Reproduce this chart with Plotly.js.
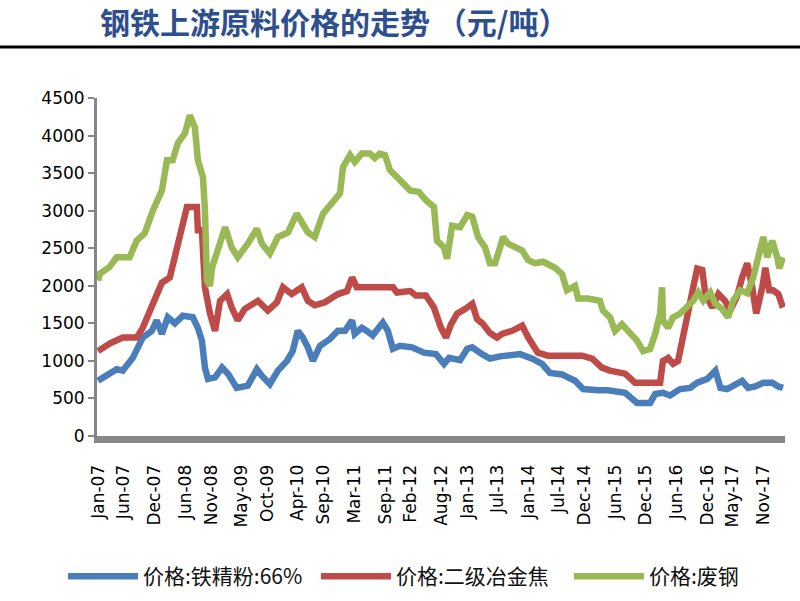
<!DOCTYPE html>
<html>
<head>
<meta charset="utf-8">
<script src="https://cdn.plot.ly/plotly-3.0.1.min.js"></script>
<style>html,body{margin:0;padding:0;background:#fff;}#chart{width:800px;height:601px;}</style>
</head>
<body>
<div id="chart"></div>
<script>
const seriesNames = ['价格:铁精粉:66%', '价格:二级冶金焦', '价格:废钢'];

const tickLabels = ['Jan-07','Jun-07','Dec-07','Jun-08','Nov-08','May-09','Oct-09','Apr-10','Sep-10','Mar-11','Sep-11','Feb-12','Aug-12','Jan-13','Jul-13','Jan-14','Jul-14','Dec-14','Jun-15','Dec-15','Jun-16','Dec-16','May-17','Nov-17'];

const ironDates = ['2007-01-07','2007-04-28','2007-06-03','2007-08-02','2007-09-30','2007-11-23','2007-12-22','2008-01-22','2008-02-26','2008-04-08','2008-05-25','2008-07-24','2008-08-23','2008-09-16','2008-10-04','2008-10-22','2008-12-03','2009-01-14','2009-02-18','2009-03-12','2009-04-11','2009-06-16','2009-08-09','2009-09-08','2009-10-25','2009-12-12','2010-02-04','2010-03-10','2010-04-09','2010-05-09','2010-06-08','2010-07-08','2010-08-19','2010-10-17','2010-12-04','2011-01-15','2011-02-26','2011-03-14','2011-04-25','2011-05-25','2011-06-29','2011-08-28','2011-09-27','2011-10-27','2011-12-08','2012-02-18','2012-04-28','2012-07-09','2012-08-26','2012-09-25','2012-11-30','2013-01-11','2013-02-10','2013-04-09','2013-05-26','2013-07-25','2013-11-22','2014-02-02','2014-04-01','2014-05-18','2014-07-28','2014-10-14','2014-12-01','2015-02-28','2015-04-28','2015-08-08','2015-09-24','2015-10-18','2016-01-04','2016-02-03','2016-03-20','2016-05-01','2016-06-30','2016-08-29','2016-10-10','2016-12-09','2017-01-26','2017-02-25','2017-04-06','2017-05-11','2017-07-04','2017-08-09','2017-09-20','2017-11-07','2017-12-30','2018-02-04','2018-03-04'];
const ironValues = [735,890,870,1040,1310,1400,1540,1360,1580,1500,1600,1580,1440,1270,910,760,780,910,830,735,640,670,890,800,690,870,1000,1130,1400,1310,1180,1000,1200,1290,1400,1400,1540,1360,1440,1400,1340,1510,1400,1160,1200,1180,1110,1090,960,1040,1010,1160,1180,1090,1030,1060,1090,1030,960,840,820,735,625,610,610,575,470,440,440,560,575,540,625,640,710,760,870,640,625,670,735,640,660,710,710,660,640];

const cokeDates = ['2007-01-07','2007-03-17','2007-06-03','2007-08-25','2007-09-30','2007-11-23','2008-01-22','2008-03-09','2008-04-20','2008-05-19','2008-06-19','2008-08-17','2008-08-23','2008-09-16','2008-10-04','2008-11-03','2008-12-03','2009-01-02','2009-02-13','2009-03-12','2009-04-17','2009-05-28','2009-08-15','2009-10-13','2009-12-06','2010-01-11','2010-03-04','2010-05-03','2010-06-08','2010-07-19','2010-09-18','2010-12-04','2011-01-27','2011-02-26','2011-03-26','2011-10-27','2011-11-20','2012-02-06','2012-03-12','2012-05-10','2012-06-27','2012-08-08','2012-09-07','2012-10-07','2012-11-12','2012-12-29','2013-02-10','2013-03-10','2013-04-15','2013-05-26','2013-07-07','2013-08-06','2013-10-05','2013-12-04','2014-01-09','2014-03-07','2014-05-06','2014-11-25','2015-01-24','2015-03-23','2015-05-10','2015-08-08','2015-10-06','2016-03-03','2016-03-20','2016-04-20','2016-05-19','2016-06-18','2016-07-18','2016-08-17','2016-09-16','2016-10-10','2016-11-09','2016-11-27','2017-01-08','2017-02-13','2017-03-24','2017-04-24','2017-06-04','2017-07-04','2017-08-03','2017-09-02','2017-09-26','2017-11-01','2017-11-19','2017-12-12','2018-01-05','2018-02-04','2018-03-04'];
const cokeValues = [1130,1230,1310,1310,1440,1710,2040,2110,2470,2780,3050,3050,2740,2740,1980,1630,1400,1800,1890,1710,1540,1690,1800,1670,1780,1980,1890,1980,1800,1740,1780,1890,1930,2110,1980,1980,1910,1930,1870,1870,1710,1440,1310,1490,1630,1690,1760,1560,1490,1370,1310,1360,1400,1470,1310,1110,1070,1070,1030,910,870,830,710,710,1000,1040,960,1000,1360,1630,1980,2230,2210,1890,1710,1890,1800,1670,1860,2110,2300,1980,1630,1980,2240,1940,1940,1890,1710];

const scrapDates = ['2007-01-07','2007-01-18','2007-03-17','2007-04-28','2007-07-14','2007-08-25','2007-10-12','2007-11-29','2008-01-22','2008-02-21','2008-03-26','2008-04-26','2008-06-07','2008-07-06','2008-08-05','2008-08-23','2008-09-22','2008-10-04','2008-10-16','2008-11-03','2008-11-15','2008-12-20','2009-02-01','2009-03-12','2009-04-17','2009-06-16','2009-08-09','2009-09-08','2009-10-25','2009-12-12','2010-02-10','2010-04-03','2010-05-09','2010-06-08','2010-07-19','2010-09-06','2010-10-29','2010-12-16','2011-01-03','2011-02-14','2011-03-14','2011-04-25','2011-06-12','2011-07-11','2011-08-10','2011-09-10','2011-10-09','2011-11-20','2011-12-25','2012-02-06','2012-03-29','2012-05-10','2012-06-27','2012-07-15','2012-08-26','2012-09-13','2012-10-13','2012-11-30','2013-01-11','2013-02-10','2013-03-16','2013-04-27','2013-05-26','2013-06-25','2013-07-25','2013-08-12','2013-09-11','2013-12-04','2014-01-09','2014-02-19','2014-04-07','2014-06-17','2014-07-28','2014-08-27','2014-10-14','2014-11-02','2014-12-30','2015-03-11','2015-03-29','2015-05-10','2015-06-09','2015-07-20','2015-08-25','2015-10-18','2015-11-23','2016-01-04','2016-02-03','2016-03-03','2016-03-15','2016-03-20','2016-04-20','2016-05-19','2016-06-30','2016-08-11','2016-09-16','2016-10-16','2016-11-15','2016-12-26','2017-01-26','2017-03-07','2017-04-12','2017-05-11','2017-06-22','2017-08-03','2017-09-08','2017-10-08','2017-11-07','2017-11-30','2017-12-30','2018-01-29','2018-02-10','2018-03-04'];
const scrapValues = [2070,2160,2250,2380,2380,2600,2700,3000,3270,3670,3670,3900,4030,4270,4110,3670,3450,3000,2070,2000,2240,2470,2780,2510,2380,2560,2760,2560,2430,2650,2710,2960,2830,2710,2650,2960,3100,3230,3580,3740,3650,3760,3760,3700,3760,3740,3540,3450,3380,3270,3250,3140,3050,2600,2510,2360,2800,2780,2940,2920,2650,2510,2300,2300,2510,2650,2560,2470,2340,2300,2320,2240,2160,1940,2000,1830,1830,1800,1670,1580,1400,1490,1400,1270,1130,1160,1360,1630,1980,1540,1440,1580,1630,1710,1800,1910,1800,1910,1760,1690,1580,1800,1940,1900,2110,2380,2650,2380,2600,2380,2230,2380];

const monthIdx = {Jan:'01',Feb:'02',Mar:'03',Apr:'04',May:'05',Jun:'06',Jul:'07',Aug:'08',Sep:'09',Oct:'10',Nov:'11',Dec:'12'};
const tickVals = tickLabels.map(function (t) {
  const p = t.split('-');
  return '20' + p[1] + '-' + monthIdx[p[0]] + '-10';
});

const colors = ['#4A7EBB', '#BE4B48', '#98B954'];
const xs = [ironDates, cokeDates, scrapDates];
const ys = [ironValues, cokeValues, scrapValues];

const traces = seriesNames.map(function (n, i) {
  return {
    type: 'scatter', mode: 'lines', name: n,
    x: xs[i], y: ys[i],
    line: {color: colors[i], width: 6.5, shape: 'linear'},
    hoverinfo: 'skip'
  };
});

const H = 338, W = 688;
const layout = {
  width: 800, height: 601,
  margin: {l: 97, r: 15, t: 98, b: 165, autoexpand: false},
  paper_bgcolor: '#ffffff', plot_bgcolor: '#ffffff',
  title: {
    text: '<b>钢铁上游原料价格的走势 （元/吨）</b>',
    font: {family: '"Noto Sans CJK SC", "Noto Sans", sans-serif', size: 30, color: '#2D4F8E'},
    xref: 'container', x: 100 / 800, xanchor: 'left',
    yref: 'container', y: 1 - 23 / 601, yanchor: 'middle'
  },
  xaxis: {
    type: 'date',
    range: ['2007-01-01', '2018-03-16'],
    tickmode: 'array', tickvals: tickVals, ticktext: tickLabels,
    tickangle: -90,
    tickfont: {family: '"DejaVu Sans", Verdana, sans-serif', size: 17, color: '#000'},
    ticks: 'outside', ticklen: 15, tickcolor: 'rgba(0,0,0,0)',
    showline: true, linecolor: '#878787', linewidth: 7,
    showgrid: false, zeroline: false, fixedrange: true, automargin: false
  },
  yaxis: {
    range: [0, 4500], dtick: 500, tick0: 0,
    tickfont: {family: '"DejaVu Sans", Verdana, sans-serif', size: 17, color: '#000'},
    ticks: 'outside', ticklen: 6, tickwidth: 2, tickcolor: '#878787',
    showline: true, linecolor: '#878787', linewidth: 3,
    showgrid: false, zeroline: false, fixedrange: true, automargin: false
  },
  showlegend: true,
  legend: {
    orientation: 'h',
    x: (63 - 97) / W, xanchor: 'left',
    y: (436 - 556) / H, yanchor: 'top',
    font: {family: '"Noto Sans CJK SC", sans-serif', size: 21, color: '#111'},
    itemwidth: 70,
    entrywidth: 168, entrywidthmode: 'pixels',
    bgcolor: 'rgba(0,0,0,0)'
  },
  shapes: [{
    type: 'line', xref: 'paper', yref: 'paper',
    x0: -97 / W, x1: (800 - 97) / W,
    y0: (436 - 47) / H, y1: (436 - 47) / H,
    line: {color: '#000', width: 3}
  }]
};

Plotly.newPlot('chart', traces, layout, {staticPlot: true, displayModeBar: false});
</script>
</body>
</html>
